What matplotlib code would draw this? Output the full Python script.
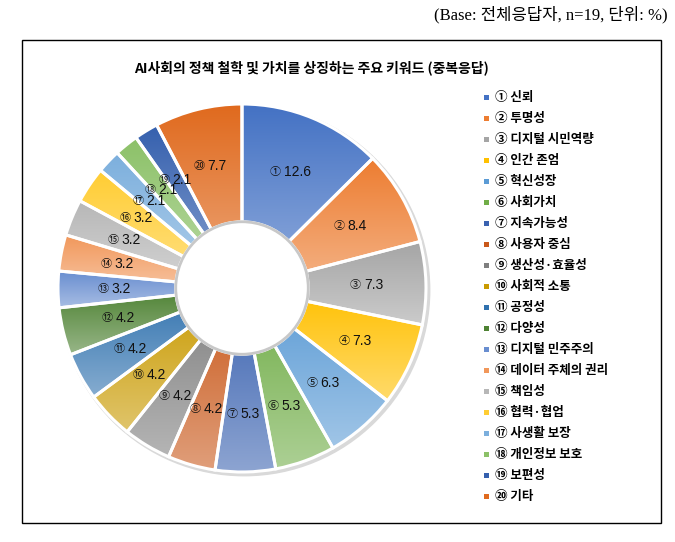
import numpy as np
import matplotlib
matplotlib.use('Agg')
import matplotlib.pyplot as plt
from matplotlib.colors import to_rgb
from matplotlib.patches import Rectangle, Circle

KR = ['Noto Sans CJK KR', 'DejaVu Sans']
plt.rcParams['font.family'] = KR

# data (Base: 전체응답자, n=19, %)
marks = ['①', '②', '③', '④', '⑤', '⑥', '⑦', '⑧', '⑨', '⑩',
         '⑪', '⑫', '⑬', '⑭', '⑮', '⑯', '⑰', '⑱', '⑲', '⑳']
keywords = ['신뢰', '투명성', '디지털 시민역량', '인간 존엄', '혁신성장', '사회가치',
            '지속가능성', '사용자 중심', '생산성·효율성', '사회적 소통', '공정성', '다양성',
            '디지털 민주주의', '데이터 주체의 권리', '책임성', '협력·협업', '사생활 보장',
            '개인정보 보호', '보편성', '기타']
shares = [12.6, 8.4, 7.3, 7.3, 6.3, 5.3, 5.3, 4.2, 4.2, 4.2,
          4.2, 4.2, 3.2, 3.2, 3.2, 3.2, 2.1, 2.1, 2.1, 7.7]
colors = ['#4472C4', '#ED7D31', '#A5A5A5', '#FFC000', '#5B9BD5', '#70AD47',
          '#3A62B0', '#C9581A', '#7F7F7F', '#C99A00', '#2F71AE', '#4E8233',
          '#698ED0', '#F1975A', '#B7B7B7', '#FFCD33', '#7CAFDD', '#8CC168',
          '#3560AE', '#E06A1E']

W, H = 675, 542
fig = plt.figure(figsize=(W / 100, H / 100), dpi=100)

# outer frame
fig.patches.append(Rectangle((22 / W, 1 - 523 / H), 639 / W, 483 / H,
                             transform=fig.transFigure, fill=False,
                             edgecolor='black', linewidth=1.0))

fig.text(668 / W, 1 - 15 / H, '(Base: 전체응답자, n=19, 단위: %)',
         ha='right', va='center', fontsize=12,
         family=['Liberation Serif', 'Noto Sans CJK KR'])
fig.text(311 / W, 1 - 68 / H, 'AI사회의 정책 철학 및 가치를 상징하는 주요 키워드 (중복응답)',
         ha='center', va='center', fontsize=10, fontweight='bold')

# donut
cx, cy, rpx = 242, 288, 184
half = 192
ax = fig.add_axes([(cx - half) / W, (H - cy - half) / H, 2 * half / W, 2 * half / H])
lim = half / rpx
ax.set_aspect('equal')
ax.axis('off')

inner = 0.36
width = 1 - inner
ax.add_patch(Circle((0.012, -0.012), 1.012, facecolor='#d9d9d9', edgecolor='none', zorder=0))

wedges, _ = ax.pie(shares, colors=colors, startangle=90, counterclock=False,
                   radius=1.0, wedgeprops=dict(width=width, edgecolor='white', linewidth=2.2))

for w, c in zip(wedges, colors):
    verts = w.get_path().vertices
    x0, x1 = verts[:, 0].min(), verts[:, 0].max()
    y0, y1 = verts[:, 1].min(), verts[:, 1].max()
    base = np.array(to_rgb(c))
    light = base + (1 - base) * 0.42
    t = np.linspace(0, 1, 64)[:, None]
    grad = light * (1 - t) + base * t  # bottom light, top base
    img = np.repeat(grad[:, None, :], 2, axis=1)
    im = ax.imshow(img, extent=[x0, x1, y0, y1], origin='lower',
                   aspect='auto', zorder=2, interpolation='bilinear')
    im.set_clip_path(w)
    w.set_facecolor('none')
    w.set_zorder(3)

# inner hole shadow
ax.add_patch(Circle((0, 0), inner, facecolor='white', edgecolor='#c8c8c8',
                    linewidth=2.0, zorder=4))
ax.set_xlim(-lim, lim)
ax.set_ylim(-lim, lim)

# value labels: small circled mark + value
rlab = 0.685
for w, m, v in zip(wedges, marks, shares):
    ang = np.deg2rad((w.theta1 + w.theta2) / 2)
    xy = (rlab * np.cos(ang), rlab * np.sin(ang))
    shift = -6 if v >= 10 else -4
    ax.annotate(m, xy, xytext=(shift - 1, 0), textcoords='offset points',
                ha='right', va='center', fontsize=8, color='#111111', zorder=5)
    ax.annotate(f'{v:.1f}', xy, xytext=(shift + 1, 0), textcoords='offset points',
                ha='left', va='center', fontsize=10, color='#111111', zorder=5,
                family=['Liberation Sans', 'DejaVu Sans'])

# legend
y_first, step = 97, 21.05
for i, (m, k, c) in enumerate(zip(marks, keywords, colors)):
    yy = y_first + i * step
    fig.patches.append(Rectangle((484 / W, 1 - (yy + 2.5) / H), 5 / W, 5 / H,
                                 transform=fig.transFigure, facecolor=c,
                                 edgecolor='none'))
    fig.text(495 / W, 1 - yy / H, f'{m} {k}', ha='left', va='center',
             fontsize=9, fontweight='bold')

fig.savefig('out.png', dpi=100)
